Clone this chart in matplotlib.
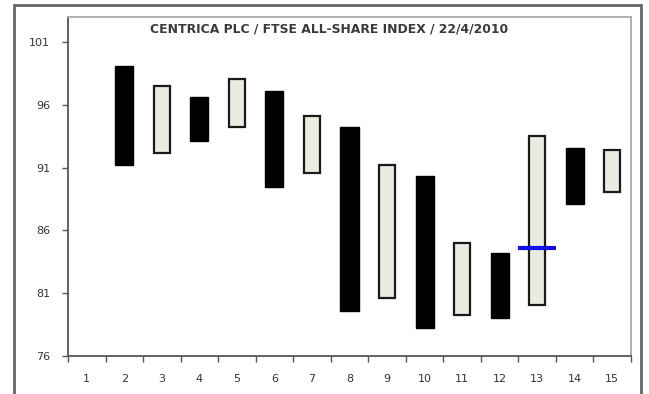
import matplotlib
matplotlib.use("Agg")
import matplotlib.pyplot as plt
from matplotlib.patches import Rectangle
from matplotlib.ticker import FixedLocator, NullFormatter, FixedFormatter

plt.rcParams['font.family'] = ['DejaVu Sans']

title = "CENTRICA PLC / FTSE ALL-SHARE INDEX / 22/4/2010"
categories = list(range(1, 16))
# open / close per category (None = no bar); close < open -> black bar
opens  = [None, 99.1, 92.2, 96.6, 94.25, 97.1, 90.6, 94.2, 80.65, 90.3, 79.3, 84.2, 80.05, 92.55, 89.1]
closes = [None, 91.2, 97.5, 93.1, 98.1, 89.5, 95.1, 79.6, 91.2, 78.2, 85.0, 79.0, 93.5, 88.1, 92.4]
marker_cat = 13
marker_val = 84.6
yticks = [76, 81, 86, 91, 96, 101]

W, H = 649, 394
fig = plt.figure(figsize=(W/100, H/100), dpi=100)
ax = fig.add_axes([68/W, 1-356/H, (631-68)/W, (356-17)/H])

for c, o, cl in zip(categories, opens, closes):
    if o is None:
        continue
    lo, hi = min(o, cl), max(o, cl)
    if cl < o:
        ax.bar(c, hi-lo, bottom=lo, width=0.48, color='black', edgecolor='black', linewidth=1.0, zorder=3)
    else:
        ax.bar(c, hi-lo, bottom=lo, width=0.44, color='#ECEBE1', edgecolor='#1a1a1a', linewidth=1.6, zorder=3)

ax.hlines(marker_val, marker_cat-0.5, marker_cat+0.5, color='#1010EE', linewidth=3, zorder=4)

ax.set_xlim(0.5, 15.5)
ax.set_ylim(76, 103)
ax.set_yticks(yticks)
ax.set_yticklabels([str(v) for v in yticks])
ax.xaxis.set_major_locator(FixedLocator([i+0.5 for i in range(0, 16)]))
ax.xaxis.set_major_formatter(NullFormatter())
ax.xaxis.set_minor_locator(FixedLocator(categories))
ax.xaxis.set_minor_formatter(FixedFormatter([str(c) for c in categories]))
ax.tick_params(axis='x', which='major', length=4, width=1, color='#555555', direction='out')
ax.tick_params(axis='x', which='minor', length=0, pad=13, labelsize=8, labelcolor='#333333')
ax.tick_params(axis='y', length=4, width=1, color='#555555', pad=9, labelsize=8, labelcolor='#333333')

for s in ['left', 'bottom']:
    ax.spines[s].set_color('#555555')
    ax.spines[s].set_linewidth(1.3)
for s in ['top', 'right']:
    ax.spines[s].set_color('#AAAAAA')
    ax.spines[s].set_linewidth(1.3)

ax.text(0.463, 0.984, title, transform=ax.transAxes, ha='center', va='top',
        fontsize=8.9, fontweight='bold', color='#3a3a3a')

# outer chart frame
frame = Rectangle((14/W, -0.1), (641-14)/W, 1.1 - 5/H, transform=fig.transFigure,
                  fill=False, edgecolor='#666666', linewidth=2, clip_on=False)
fig.patches.append(frame)

fig.savefig('out.png', dpi=100)
